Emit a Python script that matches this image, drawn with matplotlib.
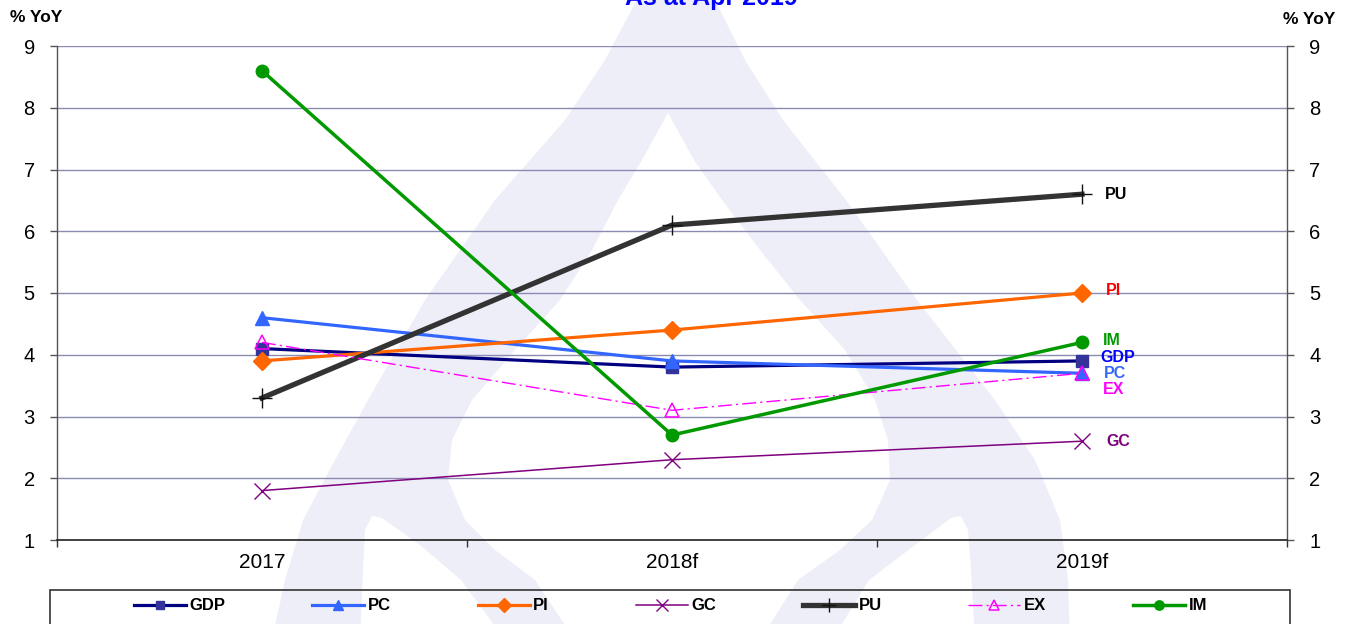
import matplotlib
matplotlib.use("Agg")
import matplotlib.pyplot as plt
import numpy as np
from matplotlib.patches import Polygon, Rectangle

# ---------------- data ----------------
categories = ["2017", "2018f", "2019f"]
series_names = ["GDP", "PC", "PI", "GC", "PU", "EX", "IM"]
gdp = [4.1, 3.8, 3.9]
pc = [4.6, 3.9, 3.7]
pi = [3.9, 4.4, 5.0]
gc = [1.8, 2.3, 2.6]
pu = [3.3, 6.1, 6.6]
ex = [4.2, 3.1, 3.7]
im = [8.6, 2.7, 4.2]
y_ticks = [1, 2, 3, 4, 5, 6, 7, 8, 9]
title_text = "As at Apr 2019"
y_label = "% YoY"

W, H = 1357, 624
plt.rcParams['font.family'] = ['Liberation Sans', 'DejaVu Sans']
fig = plt.figure(figsize=(W / 100, H / 100), dpi=100)
fig.patch.set_facecolor('white')

def px(x, y):
    return (x / W, 1 - y / H)

# ---------------- watermark ----------------
lav = '#EEEEF8'
outer_left = [(-10, 642), (60, 605), (120, 565), (200, 495), (300, 425), (400, 368), (460, 335), (520, 303), (580, 285), (640, 272)]
outer_right = [(-10, 710), (60, 745), (120, 783), (200, 846), (300, 917), (400, 995), (460, 1035), (520, 1060), (580, 1068), (640, 1070)]
outer = [px(x, y) for y, x in outer_left] + [px(x, y) for y, x in reversed(outer_right)]
fig.add_artist(Polygon(outer, closed=True, transform=fig.transFigure, facecolor=lav, edgecolor='none', zorder=-3))
inner_left = [(113, 668), (160, 642), (200, 618), (250, 592), (300, 560), (350, 515), (400, 472), (440, 452), (480, 448), (520, 465), (550, 495), (580, 535), (640, 575)]
inner_right = [(113, 668), (160, 694), (200, 722), (250, 760), (300, 800), (350, 845), (400, 875), (440, 888), (480, 890), (520, 872), (550, 840), (580, 798), (640, 760)]
inner = [px(x, y) for y, x in inner_left] + [px(x, y) for y, x in reversed(inner_right)]
fig.add_artist(Polygon(inner, closed=True, transform=fig.transFigure, facecolor='white', edgecolor='none', zorder=-2))
notch_l = [(363, 570), (365, 530), (372, 516), (382, 518), (420, 545), (461, 580), (505, 640), (360, 640)]
notch_r = [(971, 570), (968, 530), (961, 516), (951, 518), (915, 545), (869, 580), (832, 640), (975, 640)]
for n in (notch_l, notch_r):
    fig.add_artist(Polygon([px(x, y) for x, y in n], closed=True, transform=fig.transFigure,
                           facecolor='white', edgecolor='none', zorder=-2))

# ---------------- axes ----------------
ax = fig.add_axes([57 / W, 1 - 540 / H, (1287 - 57) / W, (540 - 46) / H])
ax.set_facecolor('none')
x = np.arange(len(categories))

grid_c = '#8A8AB2'
ax.set_ylim(1, 9)
ax.set_yticks(y_ticks)
ax.set_xlim(-0.5, len(categories) - 0.5)
ax.yaxis.grid(True, color=grid_c, lw=1.0)
ax.set_axisbelow(True)

ax.set_xticks(np.arange(-0.5, len(categories), 1.0))
ax.set_xticklabels([])
ax.set_xticks(x, minor=True)
ax.set_xticklabels(categories, minor=True, fontsize=15)
ax.tick_params(axis='x', which='major', direction='out', length=5, width=1, color='#333333')
ax.tick_params(axis='x', which='minor', length=0, pad=9)
ax.tick_params(axis='y', which='major', direction='out', length=5, width=1, color='#555555',
               labelsize=14.5, pad=11, right=True, labelright=True)

ax.spines['top'].set_visible(False)
for s in ('left', 'right'):
    ax.spines[s].set_color('#555555')
    ax.spines[s].set_linewidth(1)
ax.spines['bottom'].set_color('#222222')
ax.spines['bottom'].set_linewidth(1.2)

lines = []
lines += ax.plot(x, gdp, color='#000080', lw=2.3, marker='s', ms=8.5, mfc='#333399', mec='#333399', label='GDP', zorder=3)
lines += ax.plot(x, pc, color='#3366FF', lw=2.3, marker='^', ms=9.5, mfc='#3366FF', mec='#3366FF', label='PC', zorder=3)
lines += ax.plot(x, pi, color='#FF6600', lw=2.3, marker='D', ms=9, mfc='#FF6600', mec='#FF6600', label='PI', zorder=3)
lines += ax.plot(x, gc, color='#800080', lw=1.1, marker='x', ms=11, mew=1.0, mec='#800080', label='GC', zorder=3)
lines += ax.plot(x, pu, color='#333333', lw=3.8, marker='+', ms=14, mew=1.0, mec='#111111', label='PU', zorder=3)
lines += ax.plot(x, ex, color='#FF00FF', lw=1.0, dashes=(10, 3, 1.5, 3), marker='^', ms=10, mfc='none',
                 mec='#FF00FF', mew=1.1, label='EX', zorder=3)
lines += ax.plot(x, im, color='#009900', lw=2.5, marker='o', ms=9, mfc='#009900', mec='#009900', label='IM', zorder=3)

# end labels
end_vals = [gdp[-1], pc[-1], pi[-1], gc[-1], pu[-1], ex[-1], im[-1]]
end_cols = ['#0000FF', '#3366FF', '#FF0000', '#800080', '#000000', '#FF00FF', '#009900']
end_dy = [2.5, 0, 1.5, 0, 0, -11.5, 1.5]
end_dx = [13.5, 16, 17.5, 17.5, 16.5, 15, 15]
for name, v, c, dy, dx in zip(series_names, end_vals, end_cols, end_dy, end_dx):
    ax.annotate(name, xy=(x[-1], v), xytext=(dx, dy), textcoords='offset points',
                ha='left', va='center', fontsize=11.5, fontweight='bold', color=c)

# axis titles
fig.text(10 / W, 1 - 18 / H, y_label, fontsize=12.5, fontweight='bold', ha='left', va='center')
fig.text(1283 / W, 1 - 19 / H, y_label, fontsize=12.5, fontweight='bold', ha='left', va='center')
fig.text(711 / W, 1 - 5 / H, title_text, fontsize=18, fontweight='bold', color='#0000FF',
         ha='center', va='baseline')

# legend
fig.add_artist(Rectangle(px(50, 640), (1290 - 50) / W, (640 - 590) / H, transform=fig.transFigure,
                         facecolor='none', edgecolor='#333333', lw=1.2, zorder=5))
leg = fig.legend(handles=lines, labels=series_names, ncol=7, loc='center left',
                 bbox_to_anchor=px(134, 606), frameon=False, borderpad=0, borderaxespad=0,
                 handlelength=3.12, handletextpad=0.22, columnspacing=5.2, markerscale=0.75,
                 prop={'weight': 'bold', 'size': 12})

fig.savefig('out.png', dpi=100, facecolor='white')
